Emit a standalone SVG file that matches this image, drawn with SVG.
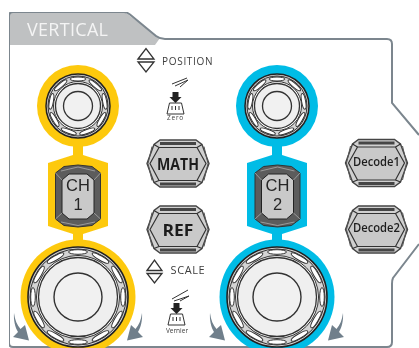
<svg xmlns="http://www.w3.org/2000/svg" width="419" height="348" viewBox="0 0 419 348">
<style>
.lbl{font-family:"Open Sans","Noto Sans",sans-serif;fill:#3d3d3d}
.btn{font-family:"Open Sans","Liberation Sans",sans-serif;fill:#1f1f1f;text-anchor:middle}
.cht{font-family:"Liberation Sans",Arial,sans-serif;fill:#262626;text-anchor:middle;font-size:16.500px}
.ln{fill:none;stroke:#333;stroke-width:1}
.grip{fill:#fff;stroke:#333;stroke-width:1}
.swoosh{fill:#6f7f8b;stroke:none}
.ico{fill:none;stroke:#333;stroke-width:1}
.ch1{fill:#fdc90f}.ch2{fill:#00bce6}
</style>
<defs>
<filter id="soft" x="0" y="0" width="100%" height="100%"><feGaussianBlur stdDeviation="0.45"/></filter>
<g id="smallKnob">
<circle r="32" fill="#d4d4d4" stroke="#222" stroke-width="1.500"/>
<circle r="30" class="ln"/>
<g id="sg"><ellipse class="grip" cy="-27" rx="8" ry="2"/></g>
<use href="#sg" transform="rotate(40)"/><use href="#sg" transform="rotate(80)"/><use href="#sg" transform="rotate(120)"/><use href="#sg" transform="rotate(160)"/><use href="#sg" transform="rotate(200)"/><use href="#sg" transform="rotate(240)"/><use href="#sg" transform="rotate(280)"/><use href="#sg" transform="rotate(320)"/>
<circle r="24.500" fill="#fff" stroke="#333" stroke-width="1"/>
<circle r="22.500" fill="#efefef" stroke="#333" stroke-width="1.300"/>
<circle r="14.500" fill="#f1f1f1" stroke="#333" stroke-width="1.300"/>
</g>
<g id="bigKnob">
<circle r="50" fill="#d4d4d4" stroke="#222" stroke-width="1.600"/>
<circle r="48" class="ln"/>
<g id="bg"><ellipse class="grip" cy="-45" rx="9.500" ry="2.300"/></g>
<use href="#bg" transform="rotate(30)"/><use href="#bg" transform="rotate(60)"/><use href="#bg" transform="rotate(90)"/><use href="#bg" transform="rotate(120)"/><use href="#bg" transform="rotate(150)"/><use href="#bg" transform="rotate(180)"/><use href="#bg" transform="rotate(210)"/><use href="#bg" transform="rotate(240)"/><use href="#bg" transform="rotate(270)"/><use href="#bg" transform="rotate(300)"/><use href="#bg" transform="rotate(330)"/>
<circle r="41.500" fill="#fff" stroke="#333" stroke-width="1"/>
<circle r="39.500" fill="#efefef" stroke="#333" stroke-width="1.300"/>
<circle r="24" fill="#f1f1f1" stroke="#333" stroke-width="1.400"/>
</g>
<g id="wideBtn">
<polygon points="-31,0 -24,-19 -18,-23.500 18,-23.500 24,-19 31,0 24,19 18,23.500 -18,23.500 -24,19" fill="#d0d0d0" stroke="#444" stroke-width="1.400"/>
<polygon points="-28,0 -19,-16 19,-16 28,0 19,17 -19,17" fill="#c9c9c9" stroke="#333" stroke-width="1.200"/>
<path d="M-18,-20H18M-18,20.500H18" stroke="#444" stroke-width="3" fill="none"/>
<path d="M-24,-19L-19,-16M24,-19L19,-16M-24,19L-19,17M24,19L19,17" stroke="#333" stroke-width="1.200" fill="none"/>
<path d="M-26,-17L-30,0L-26,17M26,-17L30,0L26,17" stroke="#555" stroke-width="1" fill="none"/>
</g>
<g id="tallBtn">
<polygon points="-22.500,-23 -14,-29.500 0,-31 14,-29.500 22.500,-23 22.500,23 14,29.500 0,31 -14,29.500 -22.500,23" fill="#5c5c5c" stroke="#333" stroke-width="1"/>
<polygon points="-16,-16 -9,-22 9,-22 16,-16 16,17 9,23 -9,23 -16,17" fill="#c9c9c9" stroke="#222" stroke-width="1"/>
<path d="M-22.500,-23L-16,-16M22.500,-23L16,-16M-22.500,23L-16,17M22.500,23L16,17M-17,-25L0,-29L17,-25M-17,26L0,29.500L17,26" stroke="#aaa" stroke-width="0.800" fill="none"/>
</g>
<path id="sw" class="swoosh" d="M0,0C1,7 3,12 6.500,16L11,12L15,27.500L-1,24L4,19C1,14 -0.500,7 0,0Z"/>
<g id="press">
<polygon points="-3,-7 3,-7 3,-2 6,-2 0,4 -6,-2 -3,-2" fill="#222"/>
<path class="ico" d="M-6,4H6L8.500,15H-8.500ZM-3.500,7V11M0,7V11M3.500,7V11"/>
</g>
</defs>
<rect width="419" height="348" fill="#fff"/>
<g filter="url(#soft)">
<g id="panel">
<path d="M155,45H9V13H126L160,38Z" fill="#bfc1c2"/>
<path d="M9,343V16Q9,12 13,12H124Q127,12 130,14.500L156,36Q160,39 165,39H387Q392,39 392,44V103L419,135M419,244L393,278Q392,280 392,284V342Q392,347 387,347H13Q9,347 9,343" fill="none" stroke="#7b868e" stroke-width="2"/>
<text x="27" y="35.500" font-size="18" font-family="'Open Sans',sans-serif" fill="#f4f4f4" letter-spacing="0.300">VERTICAL</text>
</g>
<g id="ch1">
<path class="ch1" d="M48,163L73,155V146H83V155L108,163V226L83,234V241H73V234L48,226Z"/>
<circle class="ch1" cx="78" cy="106" r="41"/>
<circle class="ch1" cx="78" cy="297" r="57.500"/>
<use href="#smallKnob" x="78" y="106"/>
<use href="#bigKnob" x="78" y="297"/>
<use href="#tallBtn" x="78" y="196"/>
<text class="cht" x="78" y="191">CH</text>
<text class="cht" x="78" y="210">1</text>
</g>
<g id="ch2">
<path class="ch2" d="M247,163L272,155V146H282V155L307,163V226L282,234V241H272V234L247,226Z"/>
<circle class="ch2" cx="277" cy="106" r="41"/>
<circle class="ch2" cx="277" cy="297" r="57.500"/>
<use href="#smallKnob" x="277" y="106"/>
<use href="#bigKnob" x="277" y="297"/>
<use href="#tallBtn" x="277.500" y="196"/>
<text class="cht" x="277.500" y="191">CH</text>
<text class="cht" x="277.500" y="210">2</text>
</g>
<g id="math"><use href="#wideBtn" x="178" y="163.500"/><text class="btn" x="178" y="169.500" font-size="16.500" font-weight="700" textLength="42" lengthAdjust="spacingAndGlyphs">MATH</text></g>
<g id="ref"><use href="#wideBtn" x="178" y="229.500"/><text class="btn" x="178" y="235.500" font-size="16.500" font-weight="700" textLength="31" lengthAdjust="spacingAndGlyphs">REF</text></g>
<g id="decode1"><use href="#wideBtn" x="376.500" y="163"/><text class="btn" x="376.500" y="165.500" font-size="13" font-weight="600" textLength="47" lengthAdjust="spacingAndGlyphs">Decode1</text></g>
<g id="decode2"><use href="#wideBtn" x="376.500" y="229.500"/><text class="btn" x="376.500" y="232" font-size="13" font-weight="600" textLength="47" lengthAdjust="spacingAndGlyphs">Decode2</text></g>
<g id="position">
<path d="M138,59L146,48.500L154,59ZM138,62H154L146,72Z" fill="#fff" stroke="#333" stroke-width="1.300"/>
<text class="lbl" x="162" y="65" font-size="10" letter-spacing="0.700">POSITION</text>
<path d="M172,84L187,78M175,86L188,80L180,87" class="ico" stroke-width="1.600"/>
<use href="#press" x="175.500" y="99"/>
<text class="lbl" x="175.500" y="120" font-size="6.500" letter-spacing="0.800" text-anchor="middle">Zero</text>
</g>
<g id="scale">
<path d="M147,270.500L154.500,260L162,270.500ZM147,273.500H162L154.500,283Z" fill="#fff" stroke="#333" stroke-width="1.300"/>
<text class="lbl" x="170.500" y="274" font-size="11" letter-spacing="0.600">SCALE</text>
<path d="M172,299L188,290M174,301L189,296L180,301" class="ico" stroke-width="1.600"/>
<use href="#press" x="176.500" y="310"/>
<text class="lbl" x="177" y="333" font-size="6.500" text-anchor="middle">Vernier</text>
</g>
<g id="connectors">
<use href="#sw" transform="translate(14,313)"/>
<use href="#sw" transform="translate(142,313) scale(-1,1)"/>
<use href="#sw" transform="translate(210,313)"/>
<use href="#sw" transform="translate(343,313) scale(-1,1)"/>
</g>
</g>
</svg>
